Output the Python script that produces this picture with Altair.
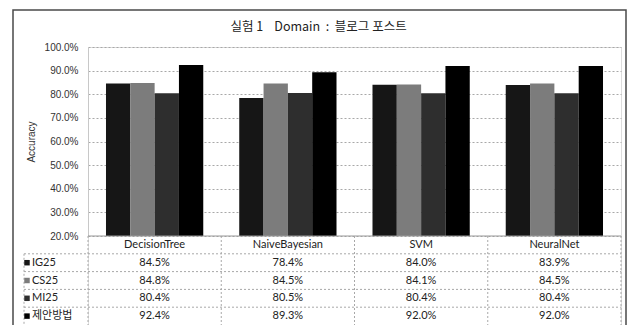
import altair as alt
import pandas as pd

categories = ["DecisionTree", "NaiveBayesian", "SVM", "NeuralNet"]
series = ["IG25", "CS25", "MI25", "제안방법"]
ig25 = [0.845, 0.784, 0.840, 0.839]
cs25 = [0.848, 0.845, 0.841, 0.845]
mi25 = [0.804, 0.805, 0.804, 0.804]
proposed = [0.924, 0.893, 0.920, 0.920]
colors = ["#161616", "#7c7c7c", "#2e2e2e", "#000000"]
y_ticks = [0.2, 0.3, 0.4, 0.5, 0.6, 0.7, 0.8, 0.9, 1.0]
title_text = "실험 1\u00a0\u00a0\u00a0\u00a0Domain\u00a0\u00a0:\u00a0\u00a0블로그 포스트"

rows = []
for s, vals in zip(series, [ig25, cs25, mi25, proposed]):
    for c, v in zip(categories, vals):
        rows.append({"category": c, "series": s, "value": v})
df = pd.DataFrame(rows)

table_rows = [{"category": c, "row": "header", "label": c} for c in categories]
for r in rows:
    table_rows.append({"category": r["category"], "row": r["series"],
                       "label": f"{r['value'] * 100:.1f}%"})
tdf = pd.DataFrame(table_rows)
sdf = pd.DataFrame({"row": series, "series": series})
cdf = pd.DataFrame({"category": categories})

W, H = 533, 278
BAR_H = 189
row_domain = ["header"] + series
FONT = "Lato, Noto Sans CJK KR"
GRID = "#a8a8a8"

x_bar = alt.Scale(domain=categories, paddingInner=0.27, paddingOuter=0.135)
x_tab = alt.Scale(domain=categories, paddingInner=0, paddingOuter=0)
y_rows = alt.Scale(domain=row_domain, range=[BAR_H, H], paddingInner=0, paddingOuter=0)
color_scale = alt.Scale(domain=series, range=colors)

bars = alt.Chart(df).mark_bar().encode(
    x=alt.X("category:N", scale=x_bar, axis=None, sort=categories),
    xOffset=alt.XOffset("series:N", scale=alt.Scale(domain=series, paddingInner=0, paddingOuter=0)),
    y=alt.Y("value:Q", stack=None,
            scale=alt.Scale(domain=[0.2, 1.0], range=[BAR_H, 0], nice=False, zero=False),
            axis=alt.Axis(values=y_ticks, format=".1%", title="Accuracy",
                          titleFont="Liberation Sans", titleFontSize=10, titleFontWeight="normal",
                          titleColor="#333", titlePadding=8,
                          labelFont="Liberation Sans", labelFontSize=10, labelColor="#333",
                          labelPadding=10, ticks=False, domain=True, domainColor="#c8c8c8",
                          grid=True, gridColor=GRID, gridDash=[2, 2], gridWidth=1)),
    y2=alt.datum(0.2),
    color=alt.Color("series:N", scale=color_scale, legend=None),
)

table_text = alt.Chart(tdf).mark_text(font=FONT, fontSize=11, color="#222").encode(
    x=alt.X("category:N", scale=x_tab, axis=None),
    y=alt.Y("row:N", scale=y_rows, axis=None),
    text="label:N",
)

row_labels = alt.Chart(sdf).mark_text(font=FONT, fontSize=11, color="#222", align="left").encode(
    x=alt.value(-56),
    y=alt.Y("row:N", scale=y_rows, axis=None),
    text="row:N",
)

row_squares = alt.Chart(sdf).mark_square(size=30, opacity=1).encode(
    x=alt.value(-61),
    y=alt.Y("row:N", scale=y_rows, axis=None),
    color=alt.Color("series:N", scale=color_scale, legend=None),
)

h_rules = alt.Chart(sdf).mark_rule(color=GRID, strokeDash=[2, 2]).encode(
    y=alt.Y("row:N", scale=y_rows, axis=None, bandPosition=0),
    x=alt.value(-64),
    x2=alt.value(W),
)

header_rule = alt.Chart(pd.DataFrame({"row": ["header"]})).mark_rule(color="#999").encode(
    y=alt.Y("row:N", scale=y_rows, axis=None, bandPosition=0),
    x=alt.value(0),
    x2=alt.value(W),
)

v_rules = alt.Chart(cdf).mark_rule(color=GRID, strokeDash=[2, 2]).encode(
    x=alt.X("category:N", scale=x_tab, axis=None, bandPosition=0),
    y=alt.value(BAR_H),
    y2=alt.value(H + 20),
)

v_rule_end = alt.Chart(pd.DataFrame({"category": [categories[-1]]})).mark_rule(
    color=GRID, strokeDash=[2, 2]).encode(
    x=alt.X("category:N", scale=x_tab, axis=None, bandPosition=1),
    y=alt.value(BAR_H),
    y2=alt.value(H + 20),
)

v_rule_left = alt.Chart(pd.DataFrame({"row": [series[0]]})).mark_rule(
    color=GRID, strokeDash=[2, 2]).encode(
    x=alt.value(-64),
    y=alt.Y("row:N", scale=y_rows, axis=None, bandPosition=0),
    y2=alt.value(H + 20),
)

frame = alt.Chart(alt.Data(values=[{}])).mark_rect(
    fillOpacity=0, stroke="#4a4a4a", strokeWidth=1.5).encode(
    x=alt.value(-75), x2=alt.value(W + 5),
    y=alt.value(-37), y2=alt.value(H + 20),
)

chart = alt.layer(
    frame, bars, header_rule, h_rules, v_rules, v_rule_end, v_rule_left,
    table_text, row_labels, row_squares,
).resolve_scale(
    x="independent", y="independent"
).properties(
    width=W, height=H,
    padding={"left": 88, "top": 47, "right": 7, "bottom": 0},
    autosize=alt.AutoSizeParams(type="none"),
    title=alt.TitleParams(title_text, anchor="middle", frame="group", dx=-36, offset=-30,
                          baseline="middle", font="Noto Sans CJK KR", fontSize=12.5,
                          fontWeight="normal", color="#222"),
).configure_view(stroke=None).configure(background="white")

chart.save("out.html", embed_options={"renderer": "svg", "actions": False})
